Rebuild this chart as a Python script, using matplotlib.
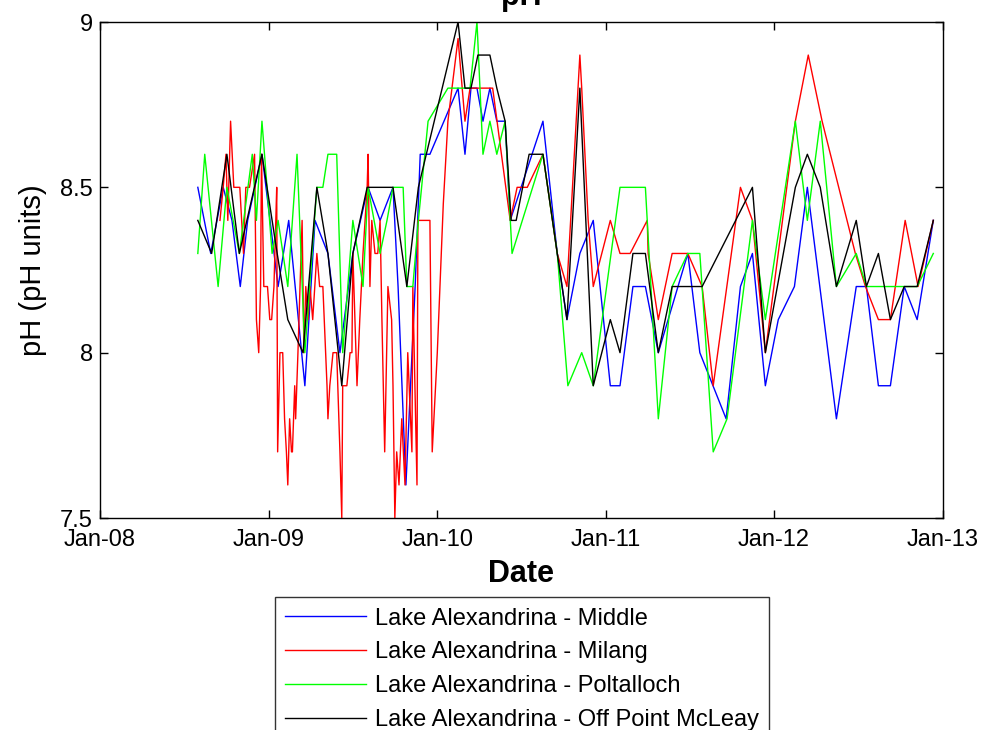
import matplotlib
matplotlib.use("Agg")
import matplotlib.pyplot as plt
import matplotlib.dates as mdates
import numpy as np

plt.rcParams["font.family"] = ["Liberation Sans", "DejaVu Sans"]

# ── data: pH samples per site ─────────────────────────────────────────────
MIDDLE_DATES = [
    "2008-07-31", "2008-08-28", "2008-09-24", "2008-10-13", "2008-10-31", "2008-11-16",
    "2008-12-17", "2009-01-21", "2009-02-13", "2009-03-20", "2009-04-11", "2009-05-09",
    "2009-06-04", "2009-07-02", "2009-08-04", "2009-08-30", "2009-09-27", "2009-10-08",
    "2009-10-25", "2009-11-14", "2009-11-25", "2009-12-16", "2010-02-15", "2010-03-02",
    "2010-03-15", "2010-03-28", "2010-04-10", "2010-04-25", "2010-05-10", "2010-05-28",
    "2010-06-08", "2010-08-18", "2010-09-18", "2010-10-09", "2010-11-06", "2010-12-05",
    "2011-01-11", "2011-02-01", "2011-03-01", "2011-03-28", "2011-04-25", "2011-06-28",
    "2011-07-24", "2011-09-19", "2011-10-20", "2011-11-15", "2011-12-13", "2012-01-10",
    "2012-02-14", "2012-03-13", "2012-05-15", "2012-06-27", "2012-07-19", "2012-08-14",
    "2012-09-09", "2012-10-09", "2012-11-06", "2012-12-11",
]
MIDDLE_PH = [
    8.5, 8.3, 8.5, 8.4, 8.2, 8.4,
    8.6, 8.2, 8.4, 7.9, 8.4, 8.3,
    8.0, 8.3, 8.5, 8.4, 8.5, 8.2,
    7.6, 8.2, 8.6, 8.6, 8.8, 8.6,
    8.8, 8.8, 8.7, 8.8, 8.7, 8.7,
    8.4, 8.7, 8.3, 8.1, 8.3, 8.4,
    7.9, 7.9, 8.2, 8.2, 8.0, 8.3,
    8.0, 7.8, 8.2, 8.3, 7.9, 8.1,
    8.2, 8.5, 7.8, 8.2, 8.2, 7.9,
    7.9, 8.2, 8.1, 8.4,
]

MILANG_DATES = [
    "2008-09-17", "2008-09-24", "2008-09-30", "2008-10-04", "2008-10-10", "2008-10-17",
    "2008-10-30", "2008-11-03", "2008-11-07", "2008-11-12", "2008-11-20", "2008-12-01",
    "2008-12-05", "2008-12-10", "2008-12-14", "2008-12-16", "2008-12-21", "2008-12-29",
    "2009-01-03", "2009-01-07", "2009-01-12", "2009-01-16", "2009-01-18", "2009-01-20",
    "2009-01-25", "2009-01-31", "2009-02-04", "2009-02-08", "2009-02-11", "2009-02-15",
    "2009-02-19", "2009-02-21", "2009-02-26", "2009-02-28", "2009-03-05", "2009-03-14",
    "2009-03-18", "2009-03-22", "2009-03-27", "2009-03-31", "2009-04-06", "2009-04-15",
    "2009-04-21", "2009-04-28", "2009-05-07", "2009-05-09", "2009-05-13", "2009-05-20",
    "2009-05-28", "2009-06-04", "2009-06-08", "2009-06-10", "2009-06-19", "2009-06-26",
    "2009-06-30", "2009-07-02", "2009-07-11", "2009-07-17", "2009-07-24", "2009-08-02",
    "2009-08-04", "2009-08-08", "2009-08-12", "2009-08-19", "2009-08-25", "2009-08-30",
    "2009-09-03", "2009-09-09", "2009-09-16", "2009-09-24", "2009-09-27", "2009-10-01",
    "2009-10-05", "2009-10-10", "2009-10-16", "2009-10-23", "2009-10-29", "2009-11-07",
    "2009-11-09", "2009-11-18", "2009-11-20", "2009-12-16", "2009-12-21", "2010-01-01",
    "2010-01-14", "2010-01-24", "2010-02-15", "2010-03-02", "2010-03-13", "2010-05-01",
    "2010-06-08", "2010-06-23", "2010-07-15", "2010-08-18", "2010-09-18", "2010-10-09",
    "2010-11-06", "2010-11-10", "2010-11-24", "2010-12-05", "2011-01-11", "2011-02-01",
    "2011-02-23", "2011-04-01", "2011-04-03", "2011-04-25", "2011-05-25", "2011-06-28",
    "2011-07-29", "2011-08-22", "2011-10-20", "2011-11-15", "2011-12-13", "2012-02-16",
    "2012-03-15", "2012-04-14", "2012-06-25", "2012-07-17", "2012-08-14", "2012-09-09",
    "2012-10-11", "2012-11-08", "2012-12-11",
]
MILANG_PH = [
    8.4, 8.5, 8.6, 8.4, 8.7, 8.5,
    8.5, 8.4, 8.3, 8.5, 8.5, 8.6,
    8.1, 8.0, 8.2, 8.6, 8.2, 8.2,
    8.1, 8.1, 8.2, 8.4, 8.5, 7.7,
    8.0, 8.0, 7.8, 7.7, 7.6, 7.8,
    7.7, 7.7, 7.9, 7.8, 8.0, 8.4,
    8.0, 8.2, 8.1, 8.2, 8.1, 8.3,
    8.2, 8.2, 7.9, 7.8, 7.9, 8.0,
    8.0, 7.7, 7.5, 7.9, 7.9, 8.0,
    8.0, 8.3, 7.9, 8.1, 8.3, 8.5,
    8.6, 8.2, 8.4, 8.3, 8.3, 8.4,
    8.1, 7.7, 8.2, 8.1, 7.9, 7.5,
    7.7, 7.6, 7.8, 7.6, 8.0, 7.7,
    8.2, 7.6, 8.4, 8.4, 7.7, 8.0,
    8.45, 8.7, 8.95, 8.7, 8.8, 8.8,
    8.4, 8.5, 8.5, 8.6, 8.3, 8.2,
    8.9, 8.8, 8.4, 8.2, 8.4, 8.3,
    8.3, 8.4, 8.3, 8.1, 8.3, 8.3,
    8.2, 7.9, 8.5, 8.4, 8.0, 8.7,
    8.9, 8.7, 8.3, 8.2, 8.1, 8.1,
    8.4, 8.2, 8.4,
]

POLTALLOCH_DATES = [
    "2008-07-31", "2008-08-15", "2008-09-13", "2008-10-02", "2008-10-29", "2008-11-26",
    "2008-12-05", "2008-12-17", "2009-01-08", "2009-01-21", "2009-02-11", "2009-03-03",
    "2009-03-20", "2009-04-15", "2009-04-28", "2009-05-09", "2009-05-28", "2009-06-10",
    "2009-07-02", "2009-07-24", "2009-08-04", "2009-08-30", "2009-09-14", "2009-09-27",
    "2009-10-19", "2009-10-27", "2009-11-09", "2009-11-21", "2009-12-12", "2010-01-24",
    "2010-03-13", "2010-03-28", "2010-04-10", "2010-04-25", "2010-05-10", "2010-05-28",
    "2010-06-12", "2010-08-18", "2010-09-18", "2010-10-11", "2010-11-10", "2010-12-05",
    "2011-02-01", "2011-03-28", "2011-04-25", "2011-05-25", "2011-06-28", "2011-07-24",
    "2011-08-22", "2011-09-21", "2011-11-15", "2011-12-13", "2012-02-16", "2012-03-13",
    "2012-04-10", "2012-05-15", "2012-06-27", "2012-07-19", "2012-09-09", "2012-11-06",
    "2012-12-11",
]
POLTALLOCH_PH = [
    8.3, 8.6, 8.2, 8.5, 8.3, 8.6,
    8.4, 8.7, 8.3, 8.4, 8.2, 8.6,
    8.0, 8.5, 8.5, 8.6, 8.6, 8.0,
    8.4, 8.2, 8.5, 8.3, 8.4, 8.5,
    8.5, 8.2, 8.2, 8.4, 8.7, 8.8,
    8.8, 9.0, 8.6, 8.7, 8.6, 8.7,
    8.3, 8.6, 8.3, 7.9, 8.0, 7.9,
    8.5, 8.5, 7.8, 8.2, 8.3, 8.3,
    7.7, 7.8, 8.4, 8.1, 8.7, 8.4,
    8.7, 8.2, 8.3, 8.2, 8.2, 8.2,
    8.3,
]

MCLEAY_DATES = [
    "2008-07-31", "2008-08-30", "2008-10-02", "2008-10-29", "2008-12-17", "2009-01-19",
    "2009-02-11", "2009-03-16", "2009-04-15", "2009-05-09", "2009-06-08", "2009-07-02",
    "2009-08-02", "2009-09-27", "2009-10-27", "2009-11-21", "2010-02-15", "2010-03-02",
    "2010-03-15", "2010-03-30", "2010-04-25", "2010-05-10", "2010-05-28", "2010-06-10",
    "2010-06-21", "2010-07-19", "2010-08-18", "2010-09-18", "2010-10-09", "2010-11-06",
    "2010-12-05", "2011-01-11", "2011-02-01", "2011-03-01", "2011-03-28", "2011-04-25",
    "2011-05-25", "2011-07-29", "2011-11-15", "2011-12-13", "2012-02-16", "2012-03-13",
    "2012-04-10", "2012-05-15", "2012-06-27", "2012-07-19", "2012-08-14", "2012-09-09",
    "2012-10-09", "2012-11-06", "2012-12-11",
]
MCLEAY_PH = [
    8.4, 8.3, 8.6, 8.3, 8.6, 8.3,
    8.1, 8.0, 8.5, 8.3, 7.9, 8.3,
    8.5, 8.5, 8.2, 8.5, 9.0, 8.8,
    8.8, 8.9, 8.9, 8.8, 8.7, 8.4,
    8.4, 8.6, 8.6, 8.3, 8.1, 8.8,
    7.9, 8.1, 8.0, 8.3, 8.3, 8.0,
    8.2, 8.2, 8.5, 8.0, 8.5, 8.6,
    8.5, 8.2, 8.4, 8.2, 8.3, 8.1,
    8.2, 8.2, 8.4,
]

SITES = [
    ("Lake Alexandrina - Middle", MIDDLE_DATES, MIDDLE_PH, "#0000FF"),
    ("Lake Alexandrina - Milang", MILANG_DATES, MILANG_PH, "#FF0000"),
    ("Lake Alexandrina - Poltalloch", POLTALLOCH_DATES, POLTALLOCH_PH, "#00FF00"),
    ("Lake Alexandrina - Off Point McLeay", MCLEAY_DATES, MCLEAY_PH, "#000000"),
]

YTICKS = [7.5, 8, 8.5, 9]
YTICK_LABELS = ["7.5", "8", "8.5", "9"]
XTICKS = ["2008-01-01", "2009-01-01", "2010-01-01", "2011-01-01", "2012-01-01", "2013-01-01"]

# ── figure ────────────────────────────────────────────────────────────────
fig = plt.figure(figsize=(9.84, 7.30), dpi=100)
ax = fig.add_axes([100 / 984, 1 - 518 / 730, 843 / 984, 496 / 730])

handles = []
for label, dates, ph, color in SITES:
    d = np.array(dates, dtype="datetime64[D]")
    (ln,) = ax.plot(d, ph, color=color, linewidth=1.0, label=label)
    handles.append(ln)

xt = np.array(XTICKS, dtype="datetime64[D]")
ax.set_xlim(xt[0], xt[-1])
ax.set_xticks(xt)
ax.xaxis.set_major_formatter(mdates.DateFormatter("%b-%y"))
ax.set_ylim(7.5, 9)
ax.set_yticks(YTICKS)
ax.set_yticklabels(YTICK_LABELS)

ax.tick_params(direction="in", length=6, width=1, top=True, right=True,
               labelsize=17)
ax.tick_params(axis="x", pad=8)
ax.tick_params(axis="y", pad=5)
for sp in ax.spines.values():
    sp.set_linewidth(1)

ax.set_title("pH", fontsize=22, fontweight="bold", pad=12)
ax.set_xlabel("Date", fontsize=22, fontweight="bold", labelpad=6)
ax.set_ylabel("pH (pH units)", fontsize=21)
ax.yaxis.set_label_coords(-0.063, 0.5)

leg = fig.legend(handles=handles, loc="upper center",
                 bbox_to_anchor=(522 / 984, 1 - 597 / 730),
                 fontsize=17, frameon=True, fancybox=False,
                 handlelength=3.4, handletextpad=0.38, labelspacing=0.5,
                 borderpad=0.45, borderaxespad=0)
leg.get_frame().set_edgecolor("black")
leg.get_frame().set_linewidth(1)

fig.savefig("out.png", dpi=100)
